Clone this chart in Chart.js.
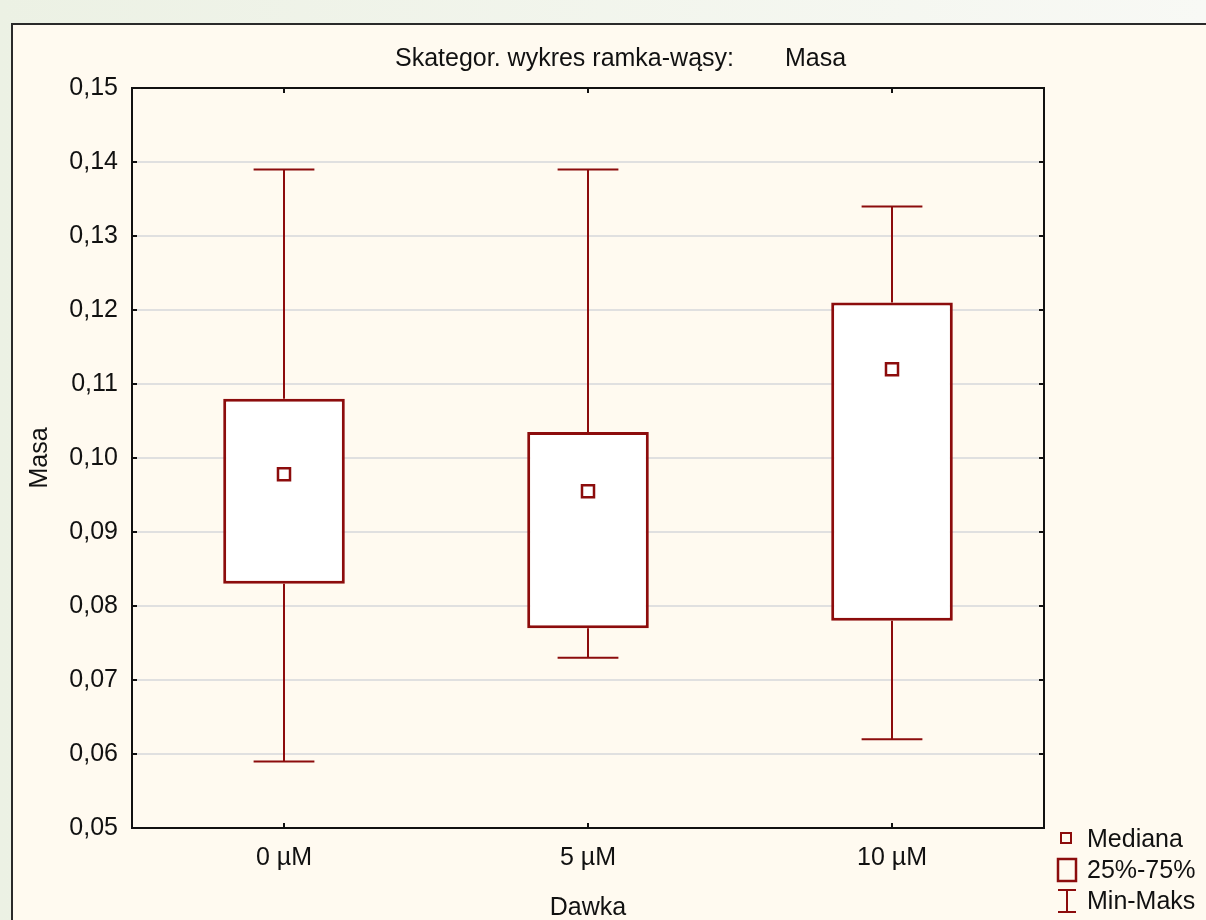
<!DOCTYPE html>
<html>
<head>
<meta charset="utf-8">
<script src="https://cdn.jsdelivr.net/npm/chart.js@4"></script>
<style>
  html, body { margin: 0; padding: 0; }
  body {
    width: 1206px; height: 920px; overflow: hidden; position: relative;
    background: linear-gradient(to right, #ecf1e4, #f8f9f5);
  }
  #panel {
    position: absolute; left: 11px; top: 23px; width: 1300px; height: 1000px;
    border-left: 2px solid #2a2a2a; border-top: 2px solid #2a2a2a;
    background: #fffaf0;
  }
  #boxChart { position: absolute; left: 0; top: 0; }
</style>
</head>
<body>
<div id="panel"></div>
<canvas id="boxChart" width="1206" height="920"></canvas>
<script>
// dane
const categories = ['0 µM', '5 µM', '10 µM'];
const minValues = [0.059, 0.073, 0.062];
const q1Values = [0.083, 0.077, 0.078];
const medianValues = [0.0978, 0.0955, 0.112];
const q3Values = [0.108, 0.1035, 0.121];
const maxValues = [0.139, 0.139, 0.134];
const yMin = 0.05, yMax = 0.15, yStep = 0.01;
const legendLabels = ['Mediana', '25%-75%', 'Min-Maks'];
const chartTitle = 'Skategor. wykres ramka-wąsy:';
const chartTitleVar = 'Masa';
const xTitle = 'Dawka';
const yTitle = 'Masa';

const boxColor = '#8c0c0c';
const fontFamily = "'Liberation Sans', Arial, sans-serif";
Chart.defaults.font.family = fontFamily;
Chart.defaults.font.size = 25;
Chart.defaults.color = '#111';

// wąsy, ramka, tytuł i legenda
const boxExtras = {
    id: 'boxExtras',
    beforeDatasetsDraw(chart) {
        const ctx = chart.ctx;
        const x = chart.scales.x, y = chart.scales.y;
        const cap = (x.getPixelForValue(1) - x.getPixelForValue(0)) * 0.2;
        ctx.save();
        ctx.strokeStyle = boxColor;
        ctx.lineWidth = 2;
        categories.forEach((c, i) => {
            const px = x.getPixelForValue(i);
            [[q3Values[i], maxValues[i]], [q1Values[i], minValues[i]]].forEach(([a, b]) => {
                ctx.beginPath();
                ctx.moveTo(px, y.getPixelForValue(a));
                ctx.lineTo(px, y.getPixelForValue(b));
                ctx.moveTo(px - cap / 2, y.getPixelForValue(b));
                ctx.lineTo(px + cap / 2, y.getPixelForValue(b));
                ctx.stroke();
            });
        });
        ctx.restore();
    },
    afterDraw(chart) {
        const ctx = chart.ctx;
        const a = chart.chartArea;
        const x = chart.scales.x, y = chart.scales.y;
        ctx.save();
        // ramka wykresu
        ctx.strokeStyle = '#111';
        ctx.lineWidth = 2;
        ctx.strokeRect(a.left, a.top, a.right - a.left, a.bottom - a.top);
        // znaczniki do środka
        ctx.beginPath();
        y.ticks.forEach(t => {
            const py = y.getPixelForValue(t.value);
            ctx.moveTo(a.left, py); ctx.lineTo(a.left + 5, py);
            ctx.moveTo(a.right, py); ctx.lineTo(a.right - 5, py);
        });
        categories.forEach((c, i) => {
            const px = x.getPixelForValue(i);
            ctx.moveTo(px, a.bottom); ctx.lineTo(px, a.bottom - 5);
            ctx.moveTo(px, a.top); ctx.lineTo(px, a.top + 5);
        });
        ctx.stroke();

        // tytuł
        ctx.fillStyle = '#111';
        ctx.font = '25px ' + fontFamily;
        ctx.textBaseline = 'middle';
        ctx.textAlign = 'left';
        ctx.fillText(chartTitle, 395, 59);
        ctx.fillText(chartTitleVar, 785, 59);

        // legenda
        const lx = 1087;
        const rows = [840, 871, 902];
        legendLabels.forEach((t, i) => ctx.fillText(t, lx, rows[i]));
        ctx.strokeStyle = boxColor;
        ctx.lineWidth = 2;
        ctx.strokeRect(1061, 833, 10, 10);
        ctx.lineWidth = 2.5;
        ctx.strokeRect(1058, 859, 18, 22);
        ctx.lineWidth = 2;
        ctx.beginPath();
        ctx.moveTo(1058, 890); ctx.lineTo(1076, 890);
        ctx.moveTo(1067, 890); ctx.lineTo(1067, 912);
        ctx.moveTo(1058, 912); ctx.lineTo(1076, 912);
        ctx.stroke();
        ctx.restore();
    }
};

const chartCtx = document.getElementById('boxChart').getContext('2d');
new Chart(chartCtx, {
    data: {
        labels: categories,
        datasets: [{
            type: 'bar',
            label: '25%-75%',
            order: 2,
            data: q1Values.map((q, i) => [q, q3Values[i]]),
            backgroundColor: '#ffffff',
            borderColor: boxColor,
            borderWidth: 3,
            borderSkipped: false,
            barPercentage: 0.4,
            categoryPercentage: 1
        }, {
            type: 'line',
            label: 'Mediana',
            order: 1,
            data: medianValues,
            showLine: false,
            pointStyle: 'rect',
            pointRadius: 8.5,
            pointBorderWidth: 2.5,
            pointBackgroundColor: '#ffffff',
            pointBorderColor: boxColor
        }]
    },
    options: {
        responsive: false,
        animation: false,
        events: [],
        layout: { padding: { left: 0, top: 88, right: 162, bottom: 0 } },
        plugins: {
            legend: { display: false },
            tooltip: { enabled: false }
        },
        scales: {
            x: {
                type: 'category',
                offset: true,
                grid: { display: false, drawTicks: false },
                border: { display: false },
                ticks: { padding: 15 },
                title: { display: true, text: xTitle, padding: { top: 0, bottom: -3 } },
                afterFit(scale) { scale.height = 92; }
            },
            y: {
                min: yMin,
                max: yMax,
                grid: { color: '#e0e0e0', lineWidth: 2, drawTicks: false },
                border: { display: false },
                ticks: {
                    stepSize: yStep,
                    padding: 14,
                    callback: v => v.toFixed(2).replace('.', ',')
                },
                title: { display: true, text: yTitle, padding: { top: 25, bottom: 0 } },
                afterFit(scale) { scale.width = 132; }
            }
        }
    },
    plugins: [boxExtras]
});
</script>
</body>
</html>
